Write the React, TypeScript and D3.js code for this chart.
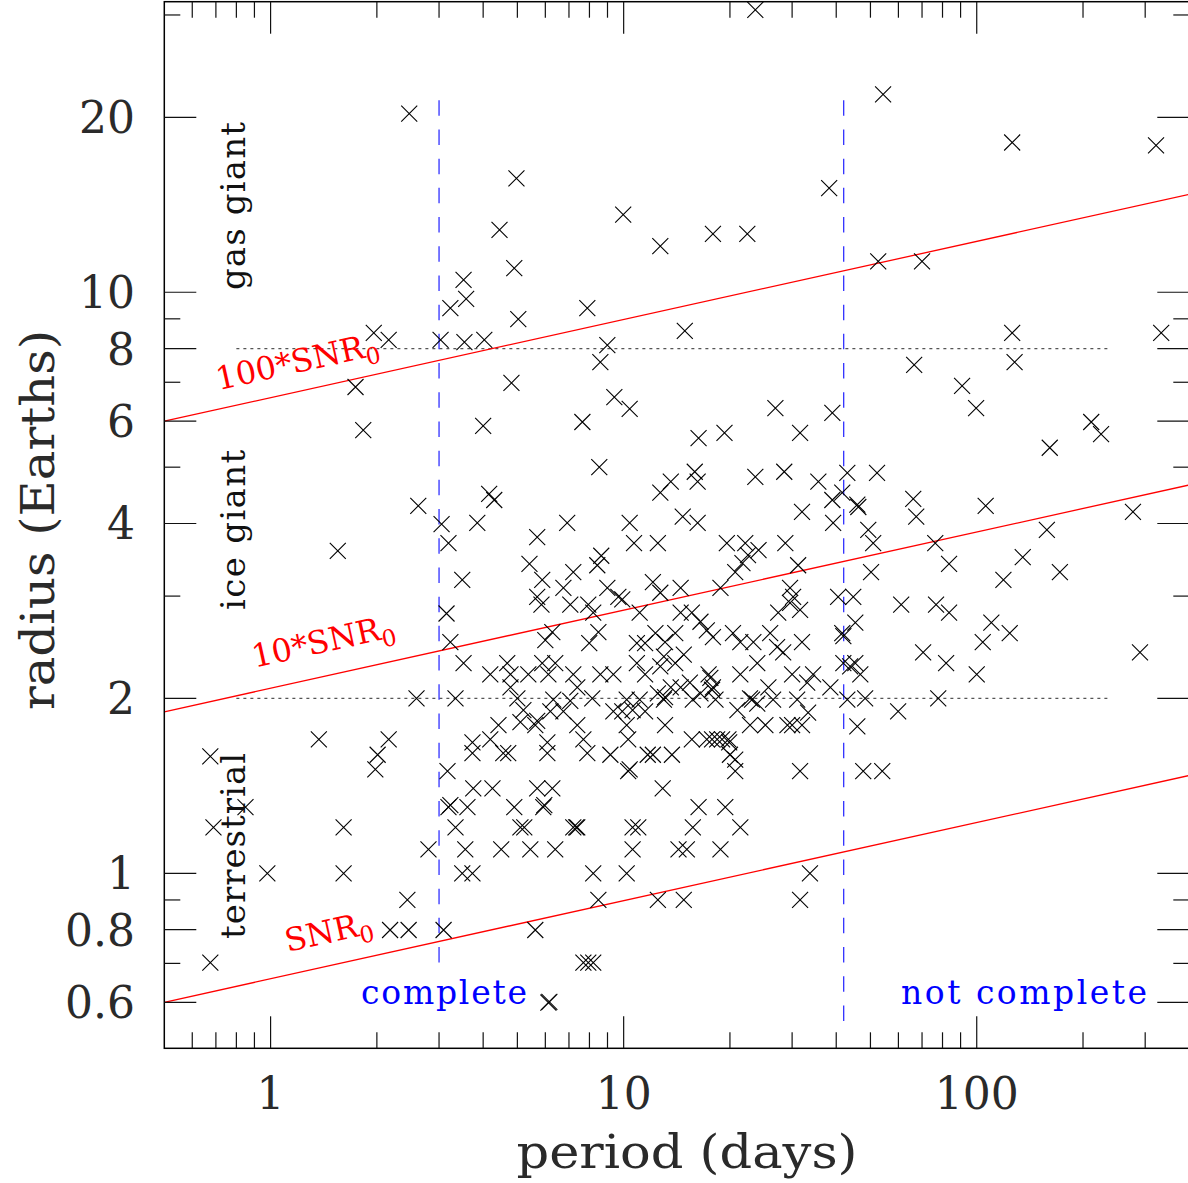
import React from "react";
import * as d3 from "d3";

// [period (days), radius (Earths)]
const planets: [number, number][] = [
  [23.6,30.6],[54.3,21.9],[2.47,20.3],[126,18.1],[322,17.9],[4.97,15.7],[38.2,15.1],[9.97,13.6],[4.45,12.8],[17.9,12.6],
  [22.4,12.6],[12.7,12.0],[52.6,11.3],[70.0,11.3],[4.90,11.0],[3.52,10.5],[3.58,9.74],[3.23,9.39],[5.03,8.99],[7.89,9.39],
  [14.9,8.58],[1.96,8.51],[2.16,8.28],[3.03,8.28],[3.54,8.21],[4.03,8.28],[8.99,8.11],[126,8.51],[333,8.51],[8.59,7.58],
  [66.5,7.50],[128,7.58],[1.74,6.87],[4.81,6.98],[90.9,6.90],[9.41,6.60],
  [26.9,6.32],[39.0,6.20],[10.4,6.30],[99.6,6.32],[211,5.98],[225,5.70],[161,5.40],[1.83,5.79],[4.00,5.89],[7.64,5.98],
  [16.3,5.61],[19.3,5.73],[31.6,5.73],[8.53,5.00],[15.9,4.91],[16.2,4.72],[13.6,4.72],[12.7,4.52],[23.6,4.81],[28.5,4.91],
  [35.6,4.72],[43.0,4.89],[39.0,4.39],[41.6,4.52],[45.9,4.31],[46.2,4.27],[52.2,4.89],[66.1,4.41],[67.4,4.11],[106,4.29],
  [277,4.19],[4.16,4.50],[4.30,4.39],[2.62,4.29],[3.05,3.99],[3.85,4.01],[6.92,4.01],[10.4,4.01],[14.7,4.11],[16.2,4.01],
  [32.0,4.19],[39.2,4.01],[49.3,3.90],[50.9,3.70],[76.3,3.70],[158,3.90],[3.19,3.70],[5.69,3.79],[10.7,3.70],[12.5,3.70],
  [19.6,3.70],[22.1,3.70],[24.1,3.60],[28.7,3.70],[22.5,3.53],[21.7,3.42],[20.7,3.30],[31.2,3.39],[1.55,3.59],[5.41,3.41],
  [8.64,3.52],[8.42,3.39],[3.49,3.20],[5.88,3.20],[7.20,3.30],[6.75,3.10],[8.99,3.10],[9.66,2.99],[5.69,2.99],[5.85,2.90],
  [7.06,2.90],[7.94,2.90],[9.91,2.96],[11.1,2.81],[8.20,2.81],[12.1,3.17],[12.7,3.04],[14.5,3.10],[18.8,3.10],[29.6,3.10],
  [30.2,2.99],[29.6,2.92],[31.6,2.84],[27.4,2.81],[40.5,2.99],[44.7,2.99],[50.2,3.30],[83.5,3.41],[135,3.50],[172,3.30],
  [119,3.20],[61.1,2.90],[76.7,2.90],[83.5,2.81],[110,2.70],[124,2.59],[104,2.50],[70.5,2.40],[81.9,2.30],[290,2.40],
  [45.3,2.70],[45.3,2.30],[46.8,2.20],[100,2.20],[48.3,2.00],[77.8,2.00],[59.9,1.90],[3.15,2.80],[3.23,2.50],[2.59,2.00],
  [6.28,2.60],[6.00,2.52],[8.48,2.60],[7.99,2.49],[10.9,2.49],[11.5,2.49],[3.52,2.30],[4.19,2.20],[4.68,2.30],[4.78,2.20],
  [5.37,2.20],[5.88,2.30],[6.40,2.30],[6.12,2.20],[7.20,2.20],[8.59,2.20],[9.35,2.20],[10.9,2.30],[11.5,2.20],[3.34,2.00],
  [4.78,2.09],[5.00,2.00],[7.39,2.09],[8.15,2.00],[6.32,1.99],[10.2,1.99],[11.1,1.99],[12.5,2.04],
  [20.4,2.59],[21.4,2.50],[23.3,2.50],[26.0,2.59],[27.2,2.45],[28.3,2.40],[32.0,2.50],[41.6,2.59],[41.9,2.56],[14.5,2.81],
  [15.6,2.81],[16.5,2.71],[17.2,2.62],[14.0,2.59],[17.9,2.55],[13.1,2.50],[12.3,2.59],[13.0,2.36],[14.0,2.30],[14.8,2.38],
  [12.7,2.27],[23.9,2.30],[21.4,2.20],[30.0,2.20],[34.4,2.20],[41.9,2.30],[43.8,2.27],[38.5,2.09],[33.1,2.13],[25.7,2.09],
  [17.4,2.20],[17.6,2.17],[17.9,2.09],[17.8,2.07],[13.6,2.09],[14.5,2.09],[15.4,2.13],[16.5,2.04],[13.0,1.99],[13.1,2.01],
  [15.7,1.99],[18.2,1.99],[22.8,2.00],[23.1,1.99],[26.5,1.99],[31.0,1.99],[43.0,1.99],
  [4.42,1.80],[5.10,1.82],[5.62,1.80],[5.69,1.83],[7.39,1.80],[10.2,1.80],[5.20,1.91],[6.20,1.90],[6.75,1.90],[9.35,1.90],
  [9.91,1.90],[10.6,1.91],[11.5,1.90],[3.73,1.68],[3.73,1.61],[4.19,1.70],[4.56,1.61],[4.71,1.61],[6.08,1.68],[6.08,1.61],
  [7.69,1.70],[7.89,1.61],[9.17,1.60],[10.3,1.70],[11.7,1.60],[10.3,1.50],[10.4,1.51],[3.17,1.50],[3.75,1.40],[4.25,1.40],
  [5.69,1.40],[6.28,1.40],[3.19,1.30],[3.23,1.31],[3.61,1.30],[4.90,1.30],[5.92,1.30],[5.96,1.31],[3.34,1.20],[5.10,1.20],
  [5.23,1.20],[7.20,1.20],[7.34,1.20],[7.39,1.20],[10.6,1.20],[11.0,1.20],[3.56,1.10],[4.50,1.10],[5.44,1.10],[6.40,1.10],
  [10.6,1.10],[3.49,1.00],[3.73,1.00],[8.20,1.00],[10.2,1.00],[8.48,0.900],[12.5,0.900],[3.09,0.799],[5.62,0.799],[7.69,0.702],
  [7.94,0.702],[8.20,0.702],[6.12,0.599],[6.16,0.601],[7.06,1.98],
  [21.0,1.91],[23.9,1.96],[33.3,1.89],[13.1,1.80],[22.8,1.80],[25.2,1.80],[29.1,1.80],[30.0,1.80],[32.0,1.80],[45.9,1.79],
  [15.6,1.70],[17.2,1.70],[17.8,1.70],[18.4,1.70],[19.0,1.70],[19.8,1.70],[19.9,1.68],[20.0,1.60],[20.7,1.57],[12.1,1.60],
  [13.7,1.60],[20.7,1.50],[31.6,1.50],[12.9,1.40],[16.3,1.30],[19.4,1.30],[15.7,1.20],[21.4,1.20],[14.3,1.10],[15.1,1.10],
  [18.8,1.10],[33.7,1.00],[14.8,0.900],[31.6,0.900],[47.7,1.50],[54.0,1.50],
  [0.675,1.59],[0.689,1.20],[1.37,1.70],[2.16,1.70],[2.01,1.60],[1.98,1.51],[0.849,1.30],[1.61,1.20],[0.979,1.00],[1.61,1.00],
  [2.80,1.10],[2.44,0.900],[2.18,0.799],[2.46,0.799],[0.675,0.702],
];

const periodDomain = [0.5, 400];
const radiusDomain = [0.5, 31.62];

const xMajorTicks = [1, 10, 100];
const xMinorTicks = [0.6, 0.7, 0.8, 0.9, 2, 3, 4, 5, 6, 7, 8, 9, 20, 30, 40, 50, 60, 70, 80, 90, 200, 300];
const yMajorTicks = [0.6, 0.8, 1, 2, 4, 6, 8, 10, 20];
const yMinorTicks = [0.7, 0.9, 3, 5, 7, 9, 30];

// SNR threshold lines: radius at period 0.5 and period 400
const snrNames = ["", "10*", "100*"];
const snrRadiusStart = [0.6, 1.897, 6.0];
const snrRadiusEnd = [1.474, 4.66, 14.74];
const snrLabelPeriod = [1.116, 0.9, 0.712];
const snrLabelLift = [23, 24, 19];

// class boundaries
const classRadii = [2, 8];
const classPeriodRange = [0.8, 240];
const classNames = ["terrestrial", "ice giant", "gas giant"];
const classLabelRadius = [1.115, 3.90, 14.07];
const classLabelLength = [186, 160, 168];

// completeness limits
const completePeriods = [3, 42];
const completeRadiusLow = [0.7, 0.55];
const completeRadiusHigh = 21.4;

export default function App() {
  const W = 1188, H = 1183;
  const x = d3.scaleLog().domain(periodDomain).range([164.3, 1189.3]);
  const y = d3.scaleLog().domain(radiusDomain).range([1048.3, 1.7]);
  const [xl, xr] = x.range();
  const [yb, yt] = y.range();
  const font = "'DejaVu Serif', serif";
  const cross = "M-8,-8L8,8M-8,8L8,-8";
  const lineGen = d3.line<[number, number]>().x(d => x(d[0])).y(d => y(d[1]));

  const snrRadiusAt = (i: number, p: number) => {
    const t = (Math.log(p) - Math.log(periodDomain[0])) / (Math.log(periodDomain[1]) - Math.log(periodDomain[0]));
    return Math.exp(Math.log(snrRadiusStart[i]) + t * (Math.log(snrRadiusEnd[i]) - Math.log(snrRadiusStart[i])));
  };
  const angle = Math.atan2(y(snrRadiusEnd[0]) - y(snrRadiusStart[0]), x(periodDomain[1]) - x(periodDomain[0])) * 180 / Math.PI;

  const tickColor = "#111";
  const textColor = "#2a2a2a";
  return (
    <svg width={W} height={H} style={{ position: "absolute", left: 0, top: 0, background: "#fff" }}>
      <rect x={0} y={0} width={W} height={H} fill="#fff" />
      {classRadii.map((r, i) => (
        <path key={"cl" + i} d={lineGen([[classPeriodRange[0], r], [classPeriodRange[1], r]]) || ""}
          stroke="#555" strokeWidth={1.2} strokeDasharray="3 4" fill="none" />
      ))}
      {completePeriods.map((p, i) => (
        <path key={"cp" + i} d={lineGen([[p, completeRadiusHigh], [p, completeRadiusLow[i]]]) || ""}
          stroke="#2020ff" strokeWidth={1.2} strokeDasharray="15.5 13.7" fill="none" />
      ))}
      {snrNames.map((n, i) => (
        <path key={"snr" + i} d={lineGen([[periodDomain[0], snrRadiusStart[i]], [periodDomain[1], snrRadiusEnd[i]]]) || ""}
          stroke="#ff0000" strokeWidth={1.3} fill="none" />
      ))}
      <g stroke="#000" strokeWidth={1.1} fill="none">
        {planets.map((d, i) => (
          <path key={"p" + i} d={cross} transform={`translate(${x(d[0])},${y(d[1])})`} />
        ))}
      </g>
      <rect x={xl} y={yt} width={xr - xl} height={yb - yt} fill="none" stroke="#000" strokeWidth={1.5} />
      <g stroke={tickColor} strokeWidth={1.2}>
        {xMajorTicks.map(v => (
          <g key={"xM" + v}>
            <line x1={x(v)} x2={x(v)} y1={yb} y2={yb - 32} />
            <line x1={x(v)} x2={x(v)} y1={yt} y2={yt + 32} />
          </g>
        ))}
        {xMinorTicks.map(v => (
          <g key={"xm" + v}>
            <line x1={x(v)} x2={x(v)} y1={yb} y2={yb - 16} />
            <line x1={x(v)} x2={x(v)} y1={yt} y2={yt + 16} />
          </g>
        ))}
        {yMajorTicks.map(v => (
          <g key={"yM" + v}>
            <line x1={xl} x2={xl + 32} y1={y(v)} y2={y(v)} />
            <line x1={xr} x2={xr - 32} y1={y(v)} y2={y(v)} />
          </g>
        ))}
        {yMinorTicks.map(v => (
          <g key={"ym" + v}>
            <line x1={xl} x2={xl + 16} y1={y(v)} y2={y(v)} />
            <line x1={xr} x2={xr - 16} y1={y(v)} y2={y(v)} />
          </g>
        ))}
      </g>
      <g fontFamily={font} fontSize={44} fill={textColor}>
        {xMajorTicks.map(v => (
          <text key={"xl" + v} x={x(v)} y={1109} textAnchor="middle">{String(v)}</text>
        ))}
        {yMajorTicks.map(v => (
          <text key={"yl" + v} x={135} y={y(v) + 16} textAnchor="end">{String(v)}</text>
        ))}
      </g>
      <text x={687} y={1168} fontFamily={font} fontSize={46} fill={textColor} textAnchor="middle"
        textLength={341} lengthAdjust="spacingAndGlyphs">period (days)</text>
      <text transform={`translate(54,520) rotate(-90)`} fontFamily={font} fontSize={46} fill={textColor}
        textAnchor="middle" textLength={380} lengthAdjust="spacingAndGlyphs">radius (Earths)</text>
      {classNames.map((n, i) => (
        <text key={"cn" + i} transform={`translate(245,${y(classLabelRadius[i])}) rotate(-90)`}
          fontFamily={font} fontSize={34} fill="#111" textAnchor="middle"
          textLength={classLabelLength[i]} lengthAdjust="spacing">{n}</text>
      ))}
      {snrNames.map((n, i) => {
        const p = snrLabelPeriod[i];
        const px = x(p);
        const py = y(snrRadiusAt(i, p)) - snrLabelLift[i];
        return (
          <text key={"sl" + i} transform={`translate(${px},${py}) rotate(${angle})`}
            fontFamily={font} fontSize={32} fill="#ff0000">
            <tspan>{n + "SNR"}</tspan>
            <tspan fontSize={23} dy={8}>0</tspan>
          </text>
        );
      })}
      <text x={361} y={1004} fontFamily={font} fontSize={33} fill="#0000ff"
        textLength={166} lengthAdjust="spacing">complete</text>
      <text x={901} y={1004} fontFamily={font} fontSize={33} fill="#0000ff"
        textLength={246} lengthAdjust="spacing">not complete</text>
    </svg>
  );
}
